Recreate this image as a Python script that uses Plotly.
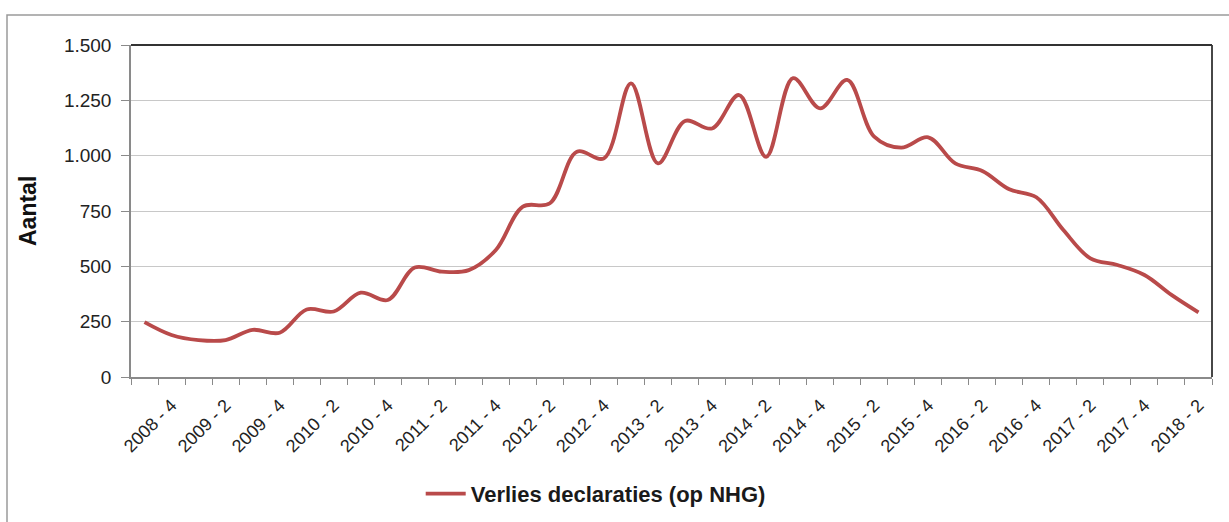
import plotly.graph_objects as go

# Quarterly periods (year - quarter)
quarters = [
    "2008 - 3", "2008 - 4",
    "2009 - 1", "2009 - 2", "2009 - 3", "2009 - 4",
    "2010 - 1", "2010 - 2", "2010 - 3", "2010 - 4",
    "2011 - 1", "2011 - 2", "2011 - 3", "2011 - 4",
    "2012 - 1", "2012 - 2", "2012 - 3", "2012 - 4",
    "2013 - 1", "2013 - 2", "2013 - 3", "2013 - 4",
    "2014 - 1", "2014 - 2", "2014 - 3", "2014 - 4",
    "2015 - 1", "2015 - 2", "2015 - 3", "2015 - 4",
    "2016 - 1", "2016 - 2", "2016 - 3", "2016 - 4",
    "2017 - 1", "2017 - 2", "2017 - 3", "2017 - 4",
    "2018 - 1", "2018 - 2",
]

# Number of loss declarations per quarter
verlies_declaraties = [
    248, 190, 167, 167, 213, 200, 305, 296, 381, 348,
    495, 476, 483, 574, 770, 785, 1018, 988, 1327, 965,
    1157, 1123, 1274, 995, 1350, 1214, 1342, 1086, 1036, 1083,
    965, 931, 848, 812, 664, 536, 506, 461, 371, 292,
]

y_ticks = [0, 250, 500, 750, 1000, 1250, 1500]

series_name = "Verlies declaraties (op NHG)"
y_title = "Aantal"

pos = list(range(len(quarters)))
label_pos = pos[1::2]
label_text = quarters[1::2]

FONT = "Liberation Sans, Arial, sans-serif"
LINE_COLOR = "#b94a4a"
GRID = "#c8c8c8"
AXIS = "#8a8a8a"

fig = go.Figure()
fig.add_trace(go.Scatter(
    x=pos,
    y=verlies_declaraties,
    mode="lines",
    name=series_name,
    line=dict(color=LINE_COLOR, width=3.8, shape="spline", smoothing=1.0),
    showlegend=True,
))

fig.update_layout(
    width=1229,
    height=522,
    margin=dict(l=131, r=17, t=45, b=145, autoexpand=False),
    paper_bgcolor="white",
    plot_bgcolor="white",
    separators=",.",
    font=dict(family=FONT, color="#222222"),
    showlegend=True,
    legend=dict(
        orientation="h",
        x=0.268, xanchor="left",
        y=-0.352, yanchor="middle",
        font=dict(family=FONT, size=22, color="#1a1a1a", weight="bold"),
        bgcolor="rgba(0,0,0,0)",
        itemwidth=40,
    ),
    xaxis=dict(
        range=[-0.5, len(quarters) - 0.5],
        tickmode="array",
        tickvals=label_pos,
        ticktext=label_text,
        tickangle=-45,
        ticks="",
        ticklabelstandoff=9,
        tickfont=dict(family=FONT, size=18, color="#222222"),
        showgrid=False,
        zeroline=False,
        showline=True,
        linecolor=AXIS,
        linewidth=1.5,
        automargin=False,
        minor=dict(
            tick0=-0.5, dtick=1, ticks="outside", ticklen=6,
            tickcolor=AXIS, tickwidth=1.2, showgrid=False,
        ),
    ),
    yaxis=dict(
        range=[0, 1500],
        tickmode="array",
        tickvals=y_ticks,
        tickformat=",d",
        ticks="outside",
        ticklen=8,
        tickcolor=AXIS,
        tickwidth=1.2,
        tickfont=dict(family=FONT, size=19, color="#222222"),
        ticklabelstandoff=6,
        showgrid=True,
        gridcolor=GRID,
        gridwidth=1.2,
        zeroline=False,
        showline=True,
        linecolor=AXIS,
        linewidth=1.5,
        automargin=False,
    ),
    annotations=[
        dict(
            text=y_title, textangle=-90,
            xref="paper", yref="paper",
            x=(28 - 131) / 1081, y=0.5,
            xanchor="center", yanchor="middle",
            showarrow=False,
            font=dict(family=FONT, size=23, color="#111111", weight="bold"),
        )
    ],
    shapes=[
        # outer chart frame
        dict(type="rect", xref="paper", yref="paper",
             x0=(7 - 131) / 1081, x1=1.2, y0=-0.7, y1=(377 - 15) / 332,
             line=dict(color="#9a9a9a", width=1.5), layer="below"),
        # dark plot-area border on top and right
        dict(type="line", xref="paper", yref="paper",
             x0=0, x1=1, y0=1, y1=1, line=dict(color="#333333", width=1.8)),
        dict(type="line", xref="paper", yref="paper",
             x0=1, x1=1, y0=0, y1=1, line=dict(color="#333333", width=1.8)),
    ],
)

fig.write_html("out.html")
